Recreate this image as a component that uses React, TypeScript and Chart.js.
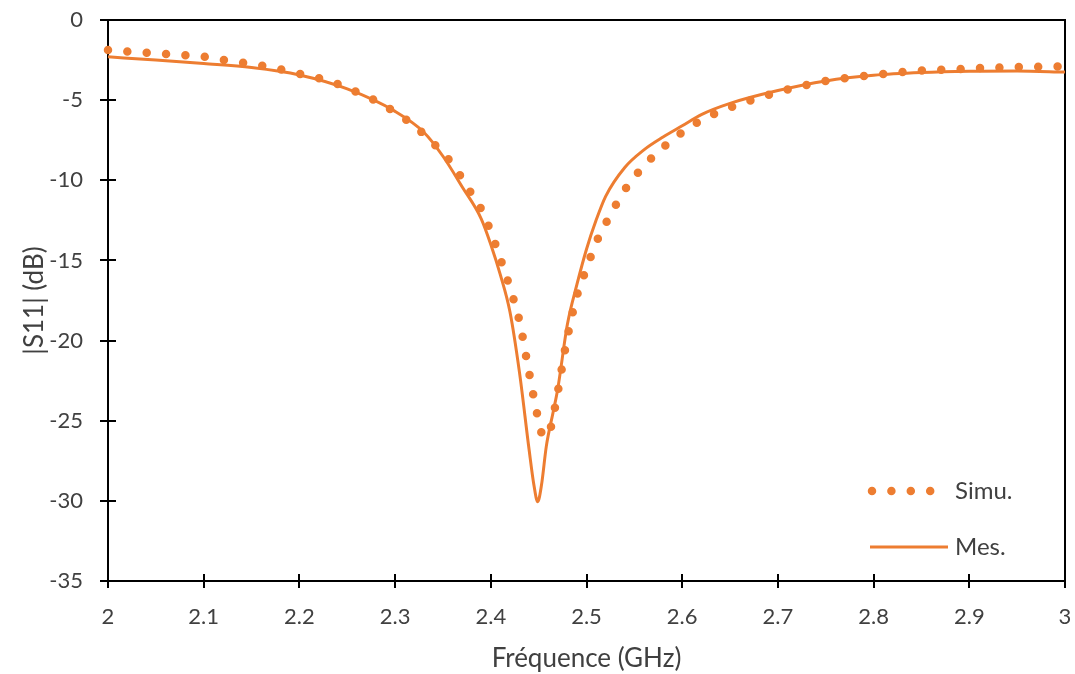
import React, { useEffect, useRef } from "react";
import { Chart, registerables } from "chart.js";

Chart.register(...registerables);

const simuFreq = [
  2.0, 2.02, 2.04, 2.06, 2.08, 2.1, 2.12, 2.14, 2.16, 2.18, 2.2, 2.22, 2.24, 2.26, 2.28, 2.3,
  2.32, 2.34, 2.36, 2.38, 2.39, 2.4, 2.41, 2.42, 2.43, 2.44, 2.45, 2.455, 2.46, 2.465, 2.47,
  2.48, 2.49, 2.5, 2.51, 2.52, 2.53, 2.54, 2.56, 2.58, 2.6, 2.62, 2.64, 2.66, 2.68, 2.7, 2.72,
  2.74, 2.76, 2.78, 2.8, 2.82, 2.84, 2.86, 2.88, 2.9, 2.92, 2.94, 2.96, 2.98, 3.0,
];
const simuS11 = [
  -1.87, -1.97, -2.04, -2.12, -2.19, -2.29, -2.48, -2.65, -2.84, -3.08, -3.36, -3.62, -4.0, -4.5,
  -5.05, -5.75, -6.6, -7.7, -9.0, -10.85, -11.8, -13.2, -14.9, -16.7, -18.8, -22.0, -25.0, -26.0,
  -25.9, -24.8, -23.2, -19.8, -17.2, -15.5, -13.9, -12.7, -11.6, -10.6, -9.1, -7.95, -7.0, -6.25,
  -5.7, -5.25, -4.85, -4.5, -4.2, -3.92, -3.7, -3.57, -3.43, -3.3, -3.2, -3.12, -3.08, -3.03,
  -2.98, -2.95, -2.92, -2.91, -2.9,
];

const mesFreq = [
  2.0, 2.05, 2.1, 2.15, 2.2, 2.25, 2.3, 2.33, 2.35, 2.37, 2.39, 2.4, 2.41, 2.42, 2.43, 2.44,
  2.445, 2.449, 2.453, 2.458, 2.465, 2.47, 2.48, 2.49, 2.5, 2.51, 2.52, 2.54, 2.56, 2.58, 2.6,
  2.62, 2.65, 2.7, 2.75, 2.8, 2.85, 2.9, 2.95, 3.0,
];
const mesS11 = [
  -2.3, -2.5, -2.72, -2.97, -3.43, -4.3, -5.7, -7.0, -8.5, -10.4, -12.4, -14.0, -15.9, -18.2,
  -22.0, -26.8, -29.0, -30.05, -29.0, -26.6, -24.5, -23.0, -19.0, -16.5, -14.3, -12.5, -11.0,
  -9.2, -8.1, -7.3, -6.6, -5.9, -5.2, -4.4, -3.8, -3.45, -3.28, -3.2, -3.18, -3.25,
];

const seriesNames = ["Simu.", "Mes."];
const xRange = [2, 3];
const yRange = [-35, 0];
const xStep = 0.1;
const yStep = 5;
const xTitle = "Fréquence (GHz)";
const yTitle = "|S11| (dB)";

const ORANGE = "#ED7D31";
const TEXT = "#404040";
const FONT = "Lato";
const DOT_DASH = [0, 19.4];

const framePlugin = {
  id: "frameTicks",
  beforeDatasetsDraw(chart: any) {
    const { ctx, chartArea, scales } = chart;
    const { left, right, top, bottom } = chartArea;
    ctx.save();
    ctx.strokeStyle = "#000";
    ctx.lineWidth = 2;
    ctx.strokeRect(left, top, right - left, bottom - top);
    ctx.beginPath();
    scales.x.ticks.forEach((t: any) => {
      const px = Math.round(scales.x.getPixelForValue(t.value));
      ctx.moveTo(px, bottom - 7);
      ctx.lineTo(px, bottom + 7);
    });
    scales.y.ticks.forEach((t: any) => {
      const py = Math.round(scales.y.getPixelForValue(t.value));
      ctx.moveTo(left - 8, py);
      ctx.lineTo(left + 8, py);
    });
    ctx.stroke();
    ctx.restore();
  },
  afterDraw(chart: any) {
    const { ctx, chartArea } = chart;
    const { right, bottom } = chartArea;
    ctx.save();
    const y1 = bottom - 90;
    ctx.strokeStyle = ORANGE;
    ctx.lineCap = "round";
    ctx.lineWidth = 8.5;
    ctx.setLineDash(DOT_DASH);
    ctx.beginPath();
    ctx.moveTo(right - 193, y1);
    ctx.lineTo(right - 134, y1);
    ctx.stroke();
    const y2 = bottom - 34;
    ctx.setLineDash([]);
    ctx.lineCap = "butt";
    ctx.lineWidth = 3;
    ctx.beginPath();
    ctx.moveTo(right - 195, y2);
    ctx.lineTo(right - 117, y2);
    ctx.stroke();
    ctx.fillStyle = TEXT;
    ctx.font = `24px ${FONT}`;
    ctx.textAlign = "left";
    ctx.textBaseline = "middle";
    ctx.fillText(seriesNames[0], right - 110, y1);
    ctx.fillText(seriesNames[1], right - 110, y2);
    ctx.restore();
  },
};

export default function App() {
  const ref = useRef<HTMLCanvasElement>(null);

  useEffect(() => {
    if (!ref.current) return;
    const chart = new Chart(ref.current, {
      type: "line",
      data: {
        datasets: [
          {
            label: seriesNames[0],
            data: simuFreq.map((f, i) => ({ x: f, y: simuS11[i] })),
            borderColor: ORANGE,
            backgroundColor: ORANGE,
            borderWidth: 8.5,
            borderDash: DOT_DASH,
            borderCapStyle: "round",
            pointRadius: 0,
            cubicInterpolationMode: "monotone",
            clip: 12,
          } as any,
          {
            label: seriesNames[1],
            data: mesFreq.map((f, i) => ({ x: f, y: mesS11[i] })),
            borderColor: ORANGE,
            backgroundColor: ORANGE,
            borderWidth: 3,
            pointRadius: 0,
            cubicInterpolationMode: "monotone",
            clip: 6,
          } as any,
        ],
      },
      options: {
        animation: false,
        responsive: true,
        maintainAspectRatio: false,
        layout: { padding: { left: 0, right: 10, top: 20, bottom: 0 } },
        plugins: {
          legend: { display: false },
          tooltip: { enabled: false },
        },
        scales: {
          x: {
            type: "linear",
            min: xRange[0],
            max: xRange[1],
            grid: { display: false, drawTicks: false },
            border: { display: false },
            ticks: {
              stepSize: xStep,
              padding: 23,
              color: TEXT,
              font: { family: FONT, size: 22 },
              maxRotation: 0,
              callback: (v: any) => String(Number(Number(v).toFixed(1))),
            },
            title: {
              display: true,
              text: xTitle,
              color: TEXT,
              font: { family: FONT, size: 26 },
              padding: { top: 1.5, bottom: 0 },
            },
            afterFit: (s: any) => {
              s.height = 93;
              s.paddingLeft = 0;
              s.paddingRight = 0;
            },
          },
          y: {
            type: "linear",
            min: yRange[0],
            max: yRange[1],
            grid: { display: false, drawTicks: false },
            border: { display: false },
            ticks: {
              stepSize: yStep,
              padding: 25,
              color: TEXT,
              font: { family: FONT, size: 22 },
            },
            title: {
              display: true,
              text: yTitle,
              color: TEXT,
              font: { family: FONT, size: 26 },
              padding: { top: 19.4, bottom: 0 },
            },
            afterFit: (s: any) => {
              s.width = 108;
              s.paddingTop = 0;
              s.paddingBottom = 0;
            },
          },
        },
      },
      plugins: [framePlugin],
    });
    return () => chart.destroy();
  }, []);

  return (
    <div style={{ position: "fixed", left: 0, top: 0, width: 1075, height: 674, background: "#fff" }}>
      <canvas ref={ref} />
    </div>
  );
}
